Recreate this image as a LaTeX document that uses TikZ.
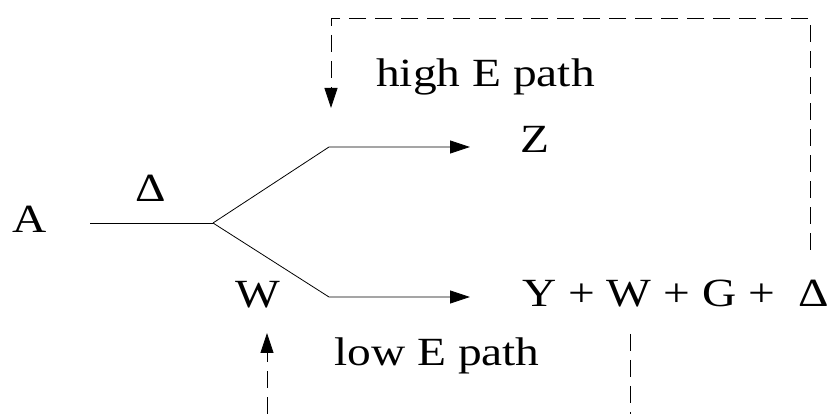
\documentclass[tikz,border=0pt]{standalone}
\usepackage{fontspec}
\setmainfont{Liberation Serif}
\usetikzlibrary{arrows.meta}
\begin{document}
\begin{tikzpicture}[x=1pt,y=1pt,
  lbl/.style={anchor=base west,inner sep=0pt,xscale=1.185,font=\fontsize{40}{42}\selectfont},
  solidline/.style={line width=0.8pt},
  arr/.style={-{Triangle[length=20pt,width=13pt]}},
  dashline/.style={line width=0.8pt,dash pattern=on 17pt off 9pt}]
\useasboundingbox (0,0) rectangle (833,414);
\node[lbl] (A) at (12,181) {A};
\node[lbl] (D) at (135,212) {Δ};
\node[lbl] (W) at (235,106) {W};
\node[lbl] (Z) at (520,261) {Z};
\node[lbl] (high) at (376,327) {high E path};
\node[lbl] (low) at (334,48) {low E path};
\node[lbl] (P) at (522,107) {Y + W + G +\ \ Δ};
\coordinate (a0) at (90,191);
\coordinate (j) at (213,191);
\coordinate (ub) at (329,267);
\coordinate (ue) at (470,267);
\coordinate (lb) at (329,117);
\coordinate (le) at (470,117);
\coordinate (r0) at (810,164);
\coordinate (r1) at (810,396);
\coordinate (r2) at (331,396);
\coordinate (r3) at (331,306);
\coordinate (b0) at (267,0);
\coordinate (b1) at (267,81);
\coordinate (c0) at (630,80);
\coordinate (c1) at (630,0);
\draw[solidline] (a0) -- (j);
\draw[solidline,arr] (j) -- (ub) -- (ue);
\draw[solidline,arr] (j) -- (lb) -- (le);
\draw[dashline,arr] (r0) -- (r1) -- (r2) -- (r3);
\draw[dashline,arr] (b0) -- (b1);
\draw[dashline] (c0) -- (c1);
\end{tikzpicture}
\end{document}
